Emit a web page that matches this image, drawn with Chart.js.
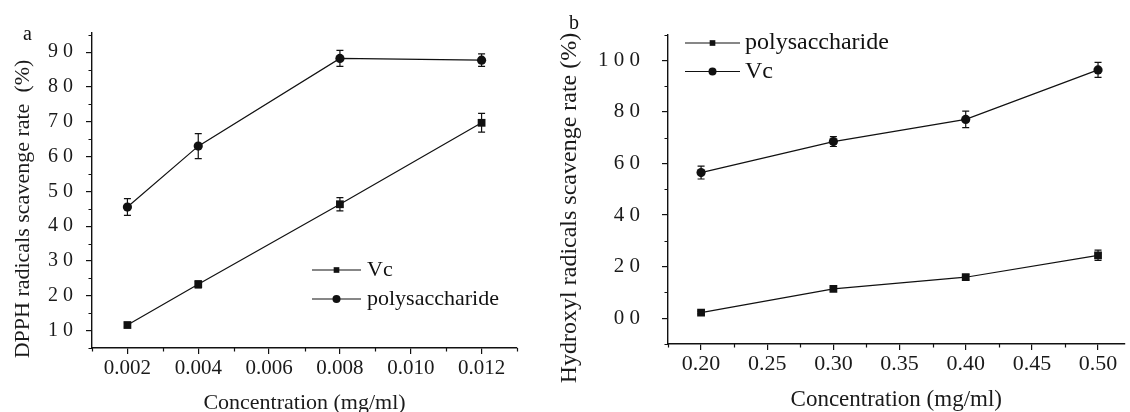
<!DOCTYPE html>
<html>
<head>
<meta charset="utf-8">
<script src="https://cdn.jsdelivr.net/npm/chart.js@4.4.1/dist/chart.umd.min.js"></script>
<style>
    html, body { margin: 0; padding: 0; background: #fff; overflow: hidden; }
    .panel { position: absolute; top: 0; }
</style>
</head>
<body>
<canvas id="chartA" class="panel" width="560" height="412" style="left:0"></canvas>
<canvas id="chartB" class="panel" width="580" height="412" style="left:550px"></canvas>
<script>
// panel a: DPPH
const concA = [0.002, 0.004, 0.008, 0.012];
const vcA = [11.6, 23.3, 46.3, 69.7];
const vcErrA = [0.6, 1.0, 1.9, 2.7];
const polyA = [45.5, 63.0, 88.2, 87.7];
const polyErrA = [2.4, 3.6, 2.3, 1.8];

// panel b: hydroxyl
const concB = [0.20, 0.30, 0.40, 0.50];
const polyB = [2.2, 11.4, 15.9, 24.4];
const polyErrB = [0.5, 0.6, 1.0, 2.0];
const vcB = [56.5, 68.5, 77.1, 96.3];
const vcErrB = [2.5, 1.9, 3.2, 2.9];

// ticks (every tick drawn, label only where the original prints one)
const xTicksA = [0.001, 0.002, 0.003, 0.004, 0.005, 0.006, 0.007, 0.008, 0.009, 0.010, 0.011, 0.012, 0.013];
const xLabelsA = ['', '0.002', '', '0.004', '', '0.006', '', '0.008', '', '0.010', '', '0.012', ''];
const yTicksA = [5, 10, 15, 20, 25, 30, 35, 40, 45, 50, 55, 60, 65, 70, 75, 80, 85, 90, 95];
const yLabelsA = ['', '1 0', '', '2 0', '', '3 0', '', '4 0', '', '5 0', '', '6 0', '', '7 0', '', '8 0', '', '9 0', ''];
const xTicksB = [0.175, 0.200, 0.225, 0.250, 0.275, 0.300, 0.325, 0.350, 0.375, 0.400, 0.425, 0.450, 0.475, 0.500];
const xLabelsB = ['', '0.20', '', '0.25', '', '0.30', '', '0.35', '', '0.40', '', '0.45', '', '0.50'];
const yTicksB = [-10, 0, 10, 20, 30, 40, 50, 60, 70, 80, 90, 100, 110];
const yLabelsB = ['', '0 0', '', '2 0', '', '4 0', '', '6 0', '', '8 0', '', '1 0 0', ''];

const SERIF = '"Liberation Serif", "Times New Roman", serif';
const INK = '#111';

Chart.defaults.font.family = SERIF;
Chart.defaults.color = '#1a1a1a';

const errorBars = {
    id: 'errorBars',
    afterDatasetsDraw(chart, args, opts) {
        const { ctx, scales } = chart;
        ctx.save();
        ctx.strokeStyle = INK;
        ctx.lineWidth = 1.2;
        chart.data.datasets.forEach(ds => {
            ds.data.forEach((p, i) => {
                const e = ds.errors[i];
                const x = scales.x.getPixelForValue(p.x);
                const y1 = scales.y.getPixelForValue(p.y + e);
                const y2 = scales.y.getPixelForValue(p.y - e);
                ctx.beginPath();
                ctx.moveTo(x, y1); ctx.lineTo(x, y2);
                ctx.moveTo(x - opts.cap, y1); ctx.lineTo(x + opts.cap, y1);
                ctx.moveTo(x - opts.cap, y2); ctx.lineTo(x + opts.cap, y2);
                ctx.stroke();
            });
        });
        ctx.restore();
    }
};

// short unlabelled ticks (the long ones are hidden for them in the grid options)
const minorTicks = {
    id: 'minorTicks',
    afterDraw(chart, args, opts) {
        const { ctx, scales: { x, y }, chartArea } = chart;
        ctx.save();
        ctx.strokeStyle = INK;
        ctx.lineWidth = 1.2;
        ctx.beginPath();
        x.ticks.forEach((t, i) => {
            if (t.label) return;
            const px = Math.round(x.getPixelForValue(t.value)) + 0.5;
            ctx.moveTo(px, chartArea.bottom);
            ctx.lineTo(px, chartArea.bottom + opts.len);
        });
        y.ticks.forEach((t, i) => {
            if (t.label) return;
            const py = Math.round(y.getPixelForValue(t.value)) + 0.5;
            ctx.moveTo(chartArea.left, py);
            ctx.lineTo(chartArea.left - opts.len, py);
        });
        ctx.stroke();
        ctx.restore();
    }
};

// legend inside the plot, the panel letter and the rotated y title
const insideLegend = {
    id: 'insideLegend',
    afterDraw(chart, args, opts) {
        const ctx = chart.ctx;
        ctx.save();
        ctx.fillStyle = INK;
        ctx.strokeStyle = INK;
        ctx.textBaseline = 'middle';
        chart.data.datasets.forEach((ds, i) => {
            const y = opts.top + i * opts.row;
            ctx.lineWidth = 1.2;
            ctx.beginPath();
            ctx.moveTo(opts.left, y);
            ctx.lineTo(opts.left + opts.line, y);
            ctx.stroke();
            Chart.helpers.drawPoint(ctx, { pointStyle: ds.pointStyle, radius: opts.radius, borderWidth: 0, rotation: 0 },
                opts.left + opts.line / 2, y);
            ctx.font = opts.font;
            ctx.fillText(ds.label, opts.left + opts.line + opts.gap, y);
        });
        ctx.font = opts.tagFont;
        ctx.fillText(opts.tag, opts.tagX, opts.tagY);

        ctx.fillStyle = '#1a1a1a';
        ctx.font = opts.yTitleFont;
        ctx.textAlign = 'center';
        ctx.translate(opts.yTitleX, opts.yTitleY);
        ctx.rotate(-Math.PI / 2);
        ctx.fillText(opts.yTitle, 0, 0);
        ctx.restore();
    }
};

const makeSeries = (label, xs, ys, errs, style) => ({
    label: label,
    data: xs.map((x, i) => ({ x: x, y: ys[i] })),
    errors: errs,
    pointStyle: style,
    pointRadius: style === 'rect' ? 5.5 : 4.6,
    pointHoverRadius: 5,
    borderColor: INK,
    backgroundColor: INK,
    pointBackgroundColor: INK,
    pointBorderWidth: 0,
    borderWidth: 1.2,
    tension: 0
});

const makeAxis = (cfg) => ({
    type: 'linear',
    min: cfg.min,
    max: cfg.max,
    afterBuildTicks: scale => { scale.ticks = cfg.ticks.map(v => ({ value: v })); },
    afterFit: scale => {
        if (cfg.width) scale.width = cfg.width;
        if (cfg.height) scale.height = cfg.height;
    },
    grid: {
        drawOnChartArea: false,
        drawTicks: true,
        tickLength: 6,
        color: INK,
        lineWidth: 1.2,
        tickColor: c => cfg.labels[c.index] ? INK : 'rgba(0,0,0,0)'
    },
    border: { display: true, color: INK, width: 1.4 },
    ticks: {
        autoSkip: false,
        maxRotation: 0,
        padding: cfg.pad,
        font: { size: cfg.tickSize },
        callback: (v, i) => cfg.labels[i]
    },
    title: {
        display: !!cfg.title,
        text: cfg.title || '',
        font: { size: cfg.titleSize, lineHeight: cfg.titleLH },
        padding: { top: 0, bottom: 0 },
        color: '#1a1a1a'
    }
});

new Chart(document.getElementById('chartA').getContext('2d'), {
    type: 'line',
    data: {
        datasets: [
            makeSeries('Vc', concA, vcA, vcErrA, 'rect'),
            makeSeries('polysaccharide', concA, polyA, polyErrA, 'circle')
        ]
    },
    options: {
        responsive: false,
        animation: false,
        devicePixelRatio: 1,
        layout: { padding: { left: 0, top: 33, right: 43, bottom: 0 } },
        plugins: {
            legend: { display: false },
            tooltip: { enabled: false },
            errorBars: { cap: 3.5 },
            minorTicks: { len: 3.5 },
            insideLegend: {
                left: 312, top: 270, row: 29, line: 49, gap: 6, radius: 4, font: '22px ' + SERIF,
                tag: 'a', tagX: 23, tagY: 35, tagFont: '20px ' + SERIF,
                yTitle: 'DPPH radicals scavenge rate  (%)', yTitleX: 23, yTitleY: 209, yTitleFont: '22px ' + SERIF
            }
        },
        scales: {
            x: makeAxis({ min: 0.001, max: 0.013, ticks: xTicksA, labels: xLabelsA, height: 64, pad: 2, tickSize: 21,
                title: 'Concentration (mg/ml)', titleSize: 22, titleLH: 0.82 }),
            y: makeAxis({ min: 5, max: 95.5, ticks: yTicksA, labels: yLabelsA, width: 92, pad: 13, tickSize: 20 })
        }
    },
    plugins: [errorBars, minorTicks, insideLegend]
});

new Chart(document.getElementById('chartB').getContext('2d'), {
    type: 'line',
    data: {
        datasets: [
            makeSeries('polysaccharide', concB, polyB, polyErrB, 'rect'),
            makeSeries('Vc', concB, vcB, vcErrB, 'circle')
        ]
    },
    options: {
        responsive: false,
        animation: false,
        devicePixelRatio: 1,
        layout: { padding: { left: 0, top: 25, right: 0, bottom: 0 } },
        plugins: {
            legend: { display: false },
            tooltip: { enabled: false },
            errorBars: { cap: 3.5 },
            minorTicks: { len: 3.5 },
            insideLegend: {
                left: 135, top: 43, row: 28.5, line: 55, gap: 5, radius: 4, font: '24px ' + SERIF,
                tag: 'b', tagX: 19, tagY: 24, tagFont: '20px ' + SERIF,
                yTitle: 'Hydroxyl radicals scavenge rate (%)', yTitleX: 20, yTitleY: 208, yTitleFont: '24px ' + SERIF
            }
        },
        scales: {
            x: makeAxis({ min: 0.175, max: 0.52, ticks: xTicksB, labels: xLabelsB, height: 68, pad: 1, tickSize: 22,
                title: 'Concentration (mg/ml)', titleSize: 23, titleLH: 1.04 }),
            y: makeAxis({ min: -10, max: 110, ticks: yTicksB, labels: yLabelsB, width: 118, pad: 22, tickSize: 21 })
        }
    },
    plugins: [errorBars, minorTicks, insideLegend]
});
</script>
</body>
</html>
